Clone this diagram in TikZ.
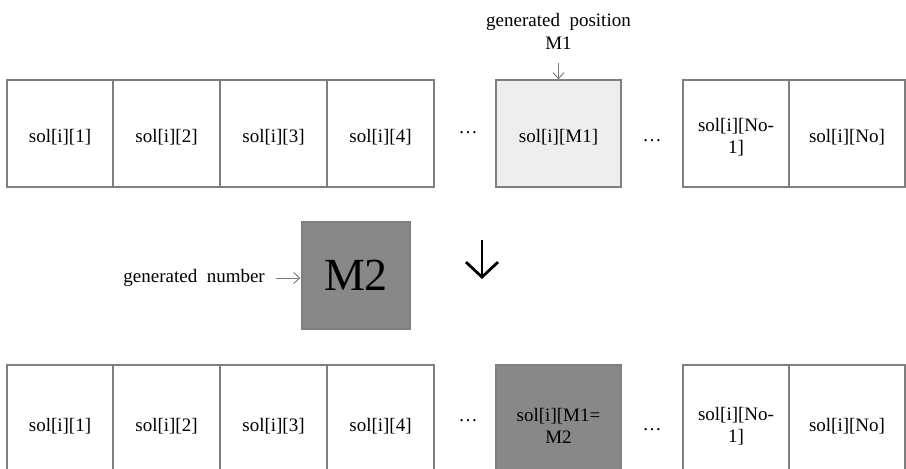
\documentclass[tikz,border=0pt]{standalone}
\usepackage{fontspec}
\setmainfont{Liberation Serif}
\usetikzlibrary{arrows.meta}
\definecolor{bordergray}{HTML}{7F7F7F}
\definecolor{lightfill}{HTML}{EEEEEE}
\definecolor{darkfill}{HTML}{888888}
\begin{document}
\begin{tikzpicture}[x=1pt,y=-1pt,
  cell/.style={draw=bordergray, line width=1.3pt, minimum height=107pt, inner sep=0pt},
  toptext/.style={label={[celltext, yshift=-3.5pt]center:#1}},
  bottext/.style={label={[celltext, yshift=-7.5pt]center:#1}},
  celltext/.style={font=\fontsize{19}{22}\selectfont, inner sep=0pt, align=center},
  dots/.style={font=\fontsize{19}{22}\selectfont, inner sep=0pt},
  lbl/.style={font=\fontsize{19}{23}\selectfont, inner sep=0pt, align=center},
  smallarrow/.style={draw=bordergray, line width=1pt, -{Straight Barb[length=6pt,width=11pt,line width=1pt]}},
  bigarrow/.style={draw=black, line width=2.8pt, -{Straight Barb[length=15pt,width=32pt,line width=2.8pt]}}]
\useasboundingbox (0,0) rectangle (906,469);
\clip (0,0) rectangle (906,469);
% top row
\node[cell, minimum width=106pt, toptext={sol[i][1]}] (t1) at (60,133.5) {};
\node[cell, minimum width=107pt, toptext={sol[i][2]}] (t2) at (166.5,133.5) {};
\node[cell, minimum width=107pt, toptext={sol[i][3]}] (t3) at (273.5,133.5) {};
\node[cell, minimum width=107pt, toptext={sol[i][4]}] (t4) at (380.5,133.5) {};
\node[dots] (td1) at (468,133) {\dots};
\node[cell, minimum width=125pt, fill=lightfill, toptext={sol[i][M1]}] (tm) at (558.5,133.5) {};
\node[dots] (td2) at (652,141) {\dots};
\node[cell, minimum width=106pt, toptext={sol[i][No-\\1]}] (tn1) at (736,133.5) {};
\node[cell, minimum width=116pt, toptext={sol[i][No]}] (tn) at (847,133.5) {};
% label above
\node[lbl] (gp) at (558.5,31) {generated\ \ position\\M1};
\coordinate (gpa) at (558.5,63);
\draw[smallarrow] (gpa) -- (tm.north);
% middle
\node[draw=bordergray, line width=1.3pt, fill=darkfill, minimum width=108pt, minimum height=107pt,
  inner sep=0pt, font=\fontsize{46}{50}\selectfont] (m2) at (356,275.5) {M2};
\node[lbl, anchor=east] (gn) at (265,278) {generated\ \ number};
\draw[smallarrow, shorten <=11pt, shorten >=1pt] (gn.east) -- (m2.west|-gn.east);
\coordinate (da1) at (482,240);
\coordinate (da2) at (482,279);
\draw[bigarrow] (da1) -- (da2);
% bottom row
\node[cell, minimum width=106pt, bottext={sol[i][1]}] (b1) at (60,418.5) {};
\node[cell, minimum width=107pt, bottext={sol[i][2]}] (b2) at (166.5,418.5) {};
\node[cell, minimum width=107pt, bottext={sol[i][3]}] (b3) at (273.5,418.5) {};
\node[cell, minimum width=107pt, bottext={sol[i][4]}] (b4) at (380.5,418.5) {};
\node[dots] (bd1) at (468,421) {\dots};
\node[cell, minimum width=125pt, fill=darkfill, bottext={sol[i][M1=\\M2}] (bm) at (558.5,418.5) {};
\node[dots] (bd2) at (652,430) {\dots};
\node[cell, minimum width=106pt, bottext={sol[i][No-\\1]}] (bn1) at (736,418.5) {};
\node[cell, minimum width=116pt, bottext={sol[i][No]}] (bn) at (847,418.5) {};
\end{tikzpicture}
\end{document}
